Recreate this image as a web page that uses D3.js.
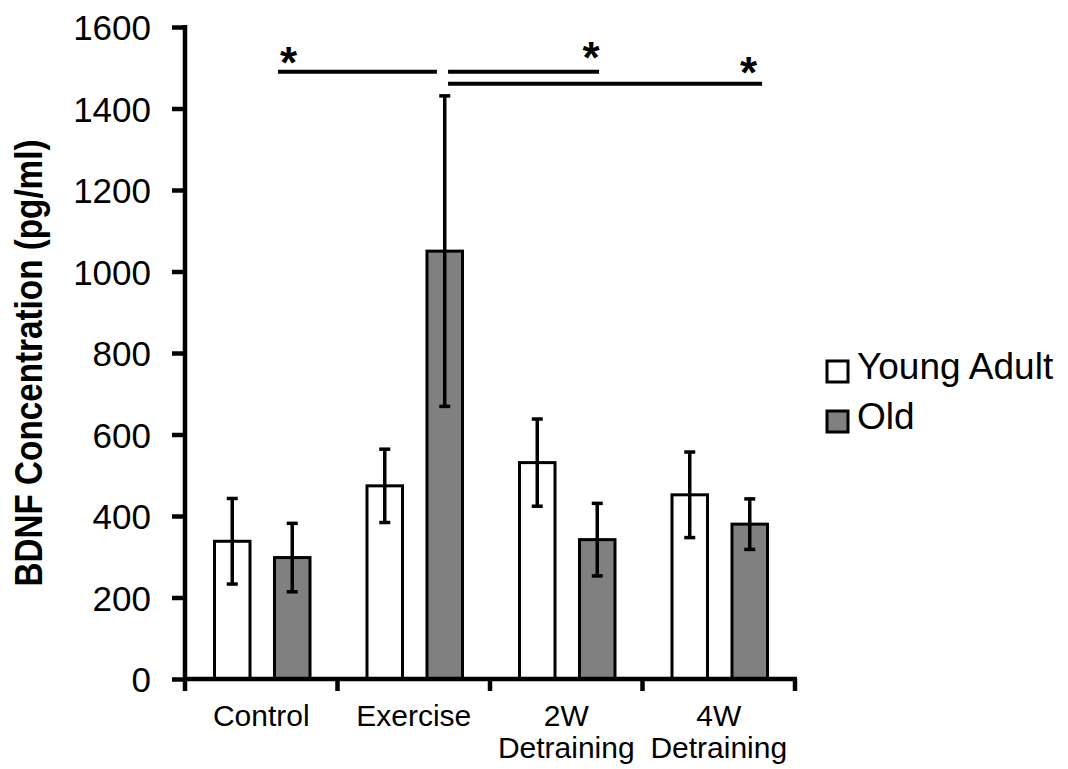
<!DOCTYPE html>
<html>
<head>
<meta charset="utf-8">
<script src="https://cdn.jsdelivr.net/npm/d3@7"></script>
<style>
  html, body { margin: 0; padding: 0; background: #fff; }
  svg { display: block; font-family: "Liberation Sans", Arial, sans-serif; }
</style>
</head>
<body>
<svg id="chart" width="1068" height="769"></svg>
<script>
// Groups along the x axis (each label may span two lines)
const categories = ["Control", "Exercise", "2W Detraining", "4W Detraining"];
const categoryLines = [["Control"], ["Exercise"], ["2W", "Detraining"], ["4W", "Detraining"]];
const seriesNames = ["Young Adult", "Old"];

// Mean BDNF (pg/ml) and error (±) per group
const youngMeans = [338, 474, 531, 452];
const youngErrors = [105, 90, 107, 105];
const oldMeans = [298, 1050, 342, 380];
const oldErrors = [84, 381, 89, 62];

const yTicks = [0, 200, 400, 600, 800, 1000, 1200, 1400, 1600];

// Significance bars: positions in category units (0..4) and heights in pg/ml
const sigLines = [
  { from: 0.61, to: 1.652, value: 1490 },
  { from: 1.725, to: 2.715, value: 1490 },
  { from: 1.725, to: 3.784, value: 1461 }
];
const sigStars = [
  { at: 0.679, value: 1536 },
  { at: 2.662, value: 1548 },
  { at: 3.695, value: 1512 }
];

const fills = { "Young Adult": "#ffffff", "Old": "#808080" };

const svg = d3.select("#chart");

const x0 = d3.scaleBand().domain(categories).range([185, 795]).padding(0);
const x1 = d3.scaleBand().domain(seriesNames).range([1, x0.bandwidth() + 1])
  .paddingInner(0.408).paddingOuter(0.475);
const y = d3.scaleLinear().domain([0, 1600]).range([679, 27]);
const xPos = d3.scaleLinear().domain([0, categories.length]).range(x0.range());

const rows = categories.map((c, i) => ({
  category: c,
  values: [
    { series: "Young Adult", mean: youngMeans[i], err: youngErrors[i] },
    { series: "Old", mean: oldMeans[i], err: oldErrors[i] }
  ]
}));

// Bars
const groups = svg.append("g").selectAll("g").data(rows).join("g")
  .attr("transform", d => `translate(${x0(d.category)},0)`);

groups.selectAll("rect").data(d => d.values).join("rect")
  .attr("x", d => x1(d.series))
  .attr("width", x1.bandwidth())
  .attr("y", d => y(d.mean))
  .attr("height", d => y(0) - y(d.mean))
  .attr("fill", d => fills[d.series])
  .attr("stroke", "#000")
  .attr("stroke-width", 3);

// Error bars
const capHalf = 5.5;
const eb = groups.selectAll("g.err").data(d => d.values).join("g").attr("class", "err")
  .attr("stroke", "#000").attr("stroke-width", 3.5);
eb.append("line")
  .attr("x1", d => x1(d.series) + x1.bandwidth() / 2)
  .attr("x2", d => x1(d.series) + x1.bandwidth() / 2)
  .attr("y1", d => y(d.mean + d.err))
  .attr("y2", d => y(d.mean - d.err));
eb.append("line")
  .attr("x1", d => x1(d.series) + x1.bandwidth() / 2 - capHalf)
  .attr("x2", d => x1(d.series) + x1.bandwidth() / 2 + capHalf)
  .attr("y1", d => y(d.mean + d.err))
  .attr("y2", d => y(d.mean + d.err));
eb.append("line")
  .attr("x1", d => x1(d.series) + x1.bandwidth() / 2 - capHalf)
  .attr("x2", d => x1(d.series) + x1.bandwidth() / 2 + capHalf)
  .attr("y1", d => y(d.mean - d.err))
  .attr("y2", d => y(d.mean - d.err));

// Y axis
const yAxis = d3.axisLeft(y).tickValues(yTicks).tickFormat(d3.format("d"))
  .tickSize(13).tickSizeOuter(0).tickPadding(21);
const gy = svg.append("g").attr("transform", `translate(${x0.range()[0]},0)`).call(yAxis);
gy.select(".domain").remove();
gy.selectAll(".tick line").attr("stroke", "#000").attr("stroke-width", 4.5);
gy.selectAll(".tick text")
  .attr("font-family", "Liberation Sans, Arial, sans-serif")
  .attr("font-size", 35).attr("fill", "#000").attr("dy", "0.36em");
svg.append("line")
  .attr("x1", x0.range()[0]).attr("x2", x0.range()[0])
  .attr("y1", y(1600) - 2).attr("y2", y(0))
  .attr("stroke", "#000").attr("stroke-width", 4.5);

// X axis line and ticks at group boundaries
svg.append("line")
  .attr("x1", x0.range()[0]).attr("x2", x0.range()[1] + 2)
  .attr("y1", y(0)).attr("y2", y(0))
  .attr("stroke", "#000").attr("stroke-width", 4.5);
const boundaries = d3.range(categories.length + 1);
svg.append("g").selectAll("line").data(boundaries).join("line")
  .attr("x1", d => xPos(d)).attr("x2", d => xPos(d))
  .attr("y1", y(0)).attr("y2", y(0) + 12)
  .attr("stroke", "#000").attr("stroke-width", 4.5);

// X labels
const xl = svg.append("g").selectAll("text").data(categories).join("text")
  .attr("text-anchor", "middle")
  .attr("font-size", 30)
  .attr("fill", "#000")
  .attr("transform", d => `translate(${x0(d) + x0.bandwidth() / 2},726)`);
xl.selectAll("tspan").data((d, i) => categoryLines[i]).join("tspan")
  .attr("x", 0).attr("y", (d, i) => i * 31.5)
  .text(d => d);

// Y axis title
svg.append("text")
  .attr("transform", "translate(42,363) rotate(-90)")
  .attr("text-anchor", "middle")
  .attr("font-size", 38)
  .attr("font-weight", "bold")
  .attr("textLength", 447)
  .attr("lengthAdjust", "spacingAndGlyphs")
  .attr("fill", "#000")
  .text("BDNF Concentration (pg/ml)");

// Significance lines and stars
svg.append("g").selectAll("line").data(sigLines).join("line")
  .attr("x1", d => xPos(d.from)).attr("x2", d => xPos(d.to))
  .attr("y1", d => y(d.value)).attr("y2", d => y(d.value))
  .attr("stroke", "#000").attr("stroke-width", 4);
const starSize = 44;
svg.append("g").selectAll("text").data(sigStars).join("text")
  .attr("x", d => xPos(d.at))
  .attr("y", d => y(d.value) + starSize * 0.56)
  .attr("text-anchor", "middle")
  .attr("font-size", starSize)
  .attr("font-weight", "bold")
  .attr("fill", "#000")
  .text("*");

// Legend
const legend = svg.append("g").attr("transform", "translate(827,361)");
const li = legend.selectAll("g").data(seriesNames).join("g")
  .attr("transform", (d, i) => `translate(0,${i * 50})`);
li.append("rect")
  .attr("x", 0).attr("y", 0).attr("width", 21).attr("height", 21)
  .attr("fill", d => fills[d]).attr("stroke", "#000").attr("stroke-width", 3);
li.append("text")
  .attr("x", 30).attr("y", 18)
  .attr("font-size", 37).attr("fill", "#000")
  .text(d => d);
</script>
</body>
</html>
